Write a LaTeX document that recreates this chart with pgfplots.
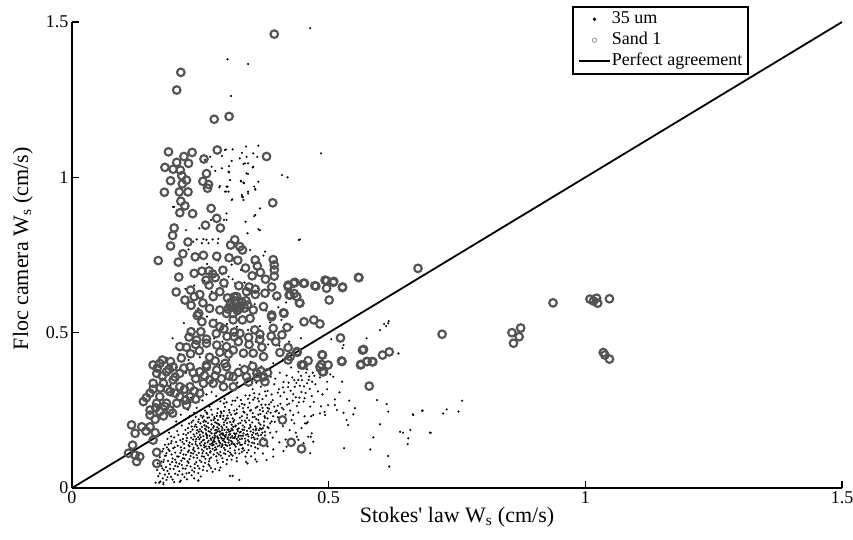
\documentclass[border=0pt]{standalone}
\usepackage{pgfplots}
\pgfplotsset{compat=1.18}
\usepackage{fontspec}
\setmainfont{Liberation Serif}

\begin{document}
\begin{tikzpicture}
\path[use as bounding box] (-72pt,-52pt) rectangle (781pt,488pt);
\begin{axis}[
    at={(0pt,0pt)}, anchor=south west,
    width=770pt, height=466pt, scale only axis,
    xmin=0, xmax=1.5, ymin=0, ymax=1.5,
    axis x line*=bottom, axis y line*=left,
    axis line style={line width=1.6pt, -},
    xtick={0,0.5,1,1.5}, ytick={0,0.5,1,1.5},
    tick align=inside, major tick length=7pt,
    tick style={line width=1.4pt, black},
    xticklabel style={font=\fontsize{18}{18}\selectfont},
    yticklabel style={font=\fontsize{18}{18}\selectfont},
    /pgf/number format/assume math mode=true,
    xlabel={Stokes\textquotesingle{} law W\textsubscript{s} (cm/s)},
    ylabel={Floc camera W\textsubscript{s} (cm/s)},
    xlabel style={font=\fontsize{22}{22}\selectfont, at={(axis description cs:0.5,-0.073)}, anchor=base},
    ylabel style={font=\fontsize{22}{22}\selectfont, at={(axis description cs:-0.057,0.513)}, anchor=base},
    legend style={at={(0.8792,1.0343)}, anchor=north east, draw=black,
        line width=1.5pt, font=\fontsize{18}{18}\selectfont,
        inner xsep=5pt, inner ysep=3pt, row sep=2pt, column sep=0pt,
        nodes={inner xsep=1pt, inner ysep=1pt, text height=13pt, text depth=4pt}},
    legend cell align=left,
    clip=false,
]
% 35 um
\addplot[only marks, mark=*, mark size=1pt, black, mark options={line width=0.1pt},
    legend image code/.code={\fill[black] (15.5pt,0pt) circle (0.9pt);}] coordinates {
(0.464,1.480) (0.303,1.380) (0.343,1.365) (0.310,1.262) (0.485,1.077)
(0.298,1.088) (0.313,1.090) (0.339,1.099) (0.363,1.102) (0.331,1.079) (0.353,1.077) (0.340,1.066) (0.292,1.069)
(0.361,1.066) (0.311,1.053) (0.327,1.061) (0.334,1.043) (0.343,1.045) (0.352,1.032) (0.272,1.034) (0.279,1.021)
(0.292,1.029) (0.306,1.016) (0.343,1.011) (0.409,1.007) (0.420,1.000) (0.308,0.991) (0.329,0.987) (0.335,0.981)
(0.363,0.986) (0.355,0.970) (0.357,0.962) (0.287,0.968) (0.301,0.970) (0.305,0.954) (0.298,0.954) (0.331,0.938)
(0.334,0.927) (0.343,0.954) (0.312,0.929) (0.366,0.900) (0.357,0.879) (0.301,0.884) (0.301,0.863) (0.338,0.857)
(0.363,0.833) (0.366,0.830) (0.342,0.820) (0.442,0.798) (0.444,0.800) (0.222,0.830) (0.248,0.836)
(0.243,0.800) (0.256,0.801) (0.262,0.799) (0.274,0.800) (0.285,0.802) (0.199,0.905)
(0.376,0.761) (0.296,0.863) (0.355,0.875) (0.253,0.788) (0.266,0.788) (0.284,0.788) (0.236,0.793) (0.227,0.768)
(0.295,0.691) (0.321,0.744) (0.305,0.680) (0.318,0.659) (0.301,0.648) (0.347,0.766) (0.300,1.090)
(0.337,1.045) (0.353,1.034) (0.305,1.018) (0.340,1.013) (0.329,0.989) (0.334,0.983) (0.288,0.972) (0.303,0.970)
(0.300,0.954) (0.357,0.961) (0.331,0.943) (0.333,0.936) (0.343,0.948) (0.311,0.927) (0.306,1.036) (0.259,1.056)
(0.269,1.066) (0.197,0.905) (0.271,0.863)
(0.246,0.741) (0.263,0.721) (0.285,0.732) (0.311,0.719) (0.329,0.702) (0.351,0.726) (0.373,0.748) (0.292,0.688)
(0.313,0.672) (0.336,0.661) (0.362,0.643) (0.384,0.628) (0.401,0.611) (0.258,0.667) (0.238,0.652) (0.221,0.641)
(0.272,0.632) (0.297,0.618) (0.331,0.608) (0.356,0.592) (0.378,0.571) (0.402,0.582) (0.417,0.597) (0.246,0.578)
(0.263,0.552) (0.281,0.541) (0.302,0.528) (0.321,0.519) (0.343,0.509) (0.366,0.521) (0.386,0.533) (0.408,0.541)
(0.429,0.519) (0.218,0.531) (0.236,0.512) (0.259,0.491) (0.277,0.482) (0.293,0.471) (0.318,0.463) (0.338,0.458)
(0.358,0.471) (0.382,0.462) (0.404,0.458) (0.423,0.471) (0.446,0.482) (0.196,0.482) (0.209,0.431) (0.227,0.412)
(0.249,0.421) (0.268,0.409) (0.287,0.396) (0.306,0.412) (0.327,0.396) (0.348,0.406) (0.369,0.391) (0.392,0.402)
(0.411,0.414) (0.185,0.418) (0.203,0.388) (0.222,0.371) (0.244,0.362) (0.264,0.352) (0.286,0.361) (0.305,0.348)
(0.322,0.339) (0.341,0.352) (0.176,0.352) (0.192,0.331) (0.214,0.311) (0.236,0.299) (0.254,0.318) (0.272,0.309)
(0.218,0.279) (0.199,0.268) (0.181,0.254) (0.232,0.291)
(0.262,0.301) (0.281,0.296) (0.305,0.304) (0.322,0.291) (0.338,0.298) (0.246,0.293) (0.355,0.305) (0.297,0.287)
(0.231,0.276) (0.254,0.282) (0.272,0.271) (0.289,0.279) (0.311,0.268) (0.329,0.283) (0.346,0.274) (0.364,0.279) (0.377,0.268)
(0.226,0.252) (0.243,0.258) (0.259,0.249) (0.268,0.262) (0.284,0.255) (0.298,0.261) (0.316,0.249) (0.333,0.257)
(0.349,0.251) (0.361,0.262) (0.372,0.247) (0.384,0.255)
(0.212,0.236) (0.229,0.231) (0.238,0.242) (0.251,0.233) (0.263,0.239) (0.277,0.228) (0.291,0.241) (0.303,0.233)
(0.318,0.238) (0.327,0.226) (0.341,0.236) (0.356,0.229) (0.367,0.238) (0.392,0.231)
(0.203,0.214) (0.219,0.219) (0.233,0.211) (0.247,0.221) (0.256,0.213) (0.271,0.218) (0.282,0.209) (0.294,0.222)
(0.308,0.212) (0.313,0.224) (0.324,0.207) (0.337,0.217) (0.351,0.211) (0.359,0.222) (0.374,0.214) (0.386,0.208) (0.241,0.204)
(0.198,0.196) (0.214,0.201) (0.226,0.193) (0.239,0.198) (0.249,0.189) (0.258,0.202) (0.266,0.194) (0.276,0.199)
(0.286,0.191) (0.296,0.203) (0.303,0.188) (0.314,0.197) (0.322,0.189) (0.333,0.201) (0.345,0.192) (0.357,0.198)
(0.369,0.189) (0.381,0.196) (0.228,0.207) (0.279,0.186)
(0.189,0.178) (0.205,0.183) (0.217,0.174) (0.231,0.181) (0.243,0.176) (0.252,0.183) (0.262,0.172) (0.269,0.181)
(0.278,0.175) (0.287,0.182) (0.294,0.171) (0.301,0.179) (0.309,0.184) (0.318,0.173) (0.327,0.179) (0.339,0.171)
(0.348,0.182) (0.361,0.176) (0.376,0.169) (0.256,0.167) (0.283,0.166)
(0.186,0.158) (0.199,0.163) (0.211,0.154) (0.224,0.161) (0.236,0.156) (0.246,0.164) (0.255,0.153) (0.263,0.161)
(0.271,0.155) (0.279,0.163) (0.286,0.152) (0.292,0.159) (0.299,0.164) (0.306,0.154) (0.314,0.161) (0.323,0.152)
(0.331,0.159) (0.343,0.154) (0.354,0.163) (0.366,0.151) (0.274,0.147) (0.289,0.144) (0.297,0.149)
(0.181,0.139) (0.193,0.144) (0.206,0.136) (0.218,0.142) (0.229,0.134) (0.241,0.141) (0.251,0.137) (0.259,0.144)
(0.267,0.133) (0.276,0.139) (0.284,0.134) (0.293,0.141) (0.302,0.136) (0.311,0.142) (0.319,0.133) (0.328,0.139)
(0.337,0.144) (0.349,0.135) (0.362,0.141) (0.263,0.126) (0.281,0.124)
(0.176,0.118) (0.188,0.124) (0.201,0.114) (0.213,0.121) (0.226,0.116) (0.236,0.123) (0.247,0.113) (0.256,0.119)
(0.269,0.114) (0.278,0.121) (0.289,0.116) (0.298,0.123) (0.308,0.114) (0.317,0.121) (0.331,0.116) (0.344,0.122) (0.356,0.113)
(0.171,0.099) (0.183,0.104) (0.196,0.095) (0.208,0.101) (0.219,0.094) (0.231,0.103) (0.244,0.097) (0.257,0.101)
(0.268,0.094) (0.281,0.102) (0.293,0.096) (0.306,0.103) (0.321,0.097) (0.338,0.101)
(0.167,0.079) (0.178,0.084) (0.191,0.076) (0.203,0.082) (0.214,0.074) (0.227,0.081) (0.239,0.077) (0.252,0.084)
(0.266,0.076) (0.284,0.081) (0.301,0.077)
(0.166,0.058) (0.176,0.063) (0.186,0.055) (0.198,0.061) (0.209,0.054) (0.221,0.062) (0.234,0.057) (0.248,0.063)
(0.263,0.055) (0.279,0.061)
(0.168,0.038) (0.181,0.043) (0.193,0.036) (0.206,0.042) (0.219,0.035) (0.233,0.041) (0.251,0.037)
(0.163,0.017) (0.172,0.021) (0.184,0.026) (0.199,0.019) (0.212,0.024) (0.246,0.024) (0.210,0.020) (0.178,0.012)
(0.252,0.148) (0.261,0.187) (0.272,0.205) (0.283,0.196) (0.291,0.175) (0.268,0.168) (0.277,0.158) (0.287,0.137)
(0.296,0.129) (0.258,0.131) (0.249,0.171) (0.306,0.171) (0.311,0.204) (0.299,0.218) (0.264,0.226) (0.273,0.143)
(0.284,0.182) (0.293,0.193) (0.305,0.146) (0.318,0.166) (0.241,0.149) (0.235,0.188) (0.246,0.213) (0.325,0.169)
(0.332,0.188) (0.266,0.152) (0.279,0.211) (0.289,0.229) (0.254,0.226) (0.262,0.198)
(0.222,0.171) (0.229,0.146) (0.237,0.129) (0.244,0.186) (0.248,0.157) (0.253,0.196) (0.257,0.138) (0.261,0.176)
(0.265,0.209) (0.269,0.141) (0.271,0.188) (0.274,0.163) (0.276,0.219) (0.278,0.149) (0.281,0.178) (0.282,0.232)
(0.285,0.159) (0.287,0.203) (0.288,0.171) (0.291,0.132) (0.292,0.186) (0.294,0.153) (0.296,0.211) (0.297,0.168)
(0.299,0.139) (0.301,0.196) (0.303,0.158) (0.304,0.224) (0.306,0.181) (0.308,0.128) (0.309,0.162) (0.311,0.191)
(0.312,0.148) (0.314,0.213) (0.316,0.176) (0.317,0.139) (0.319,0.201) (0.321,0.158) (0.323,0.183) (0.326,0.146)
(0.328,0.209) (0.329,0.168) (0.332,0.127) (0.334,0.176) (0.336,0.196) (0.338,0.151) (0.341,0.184) (0.344,0.166)
(0.347,0.203) (0.351,0.146) (0.353,0.178) (0.356,0.157) (0.359,0.191) (0.363,0.169) (0.367,0.204) (0.371,0.161)
(0.239,0.166) (0.233,0.198) (0.227,0.138) (0.221,0.187) (0.216,0.158) (0.212,0.131) (0.207,0.171) (0.203,0.148)
(0.197,0.128) (0.193,0.166) (0.188,0.141) (0.184,0.112) (0.179,0.091) (0.174,0.071) (0.187,0.087) (0.194,0.108)
(0.201,0.091) (0.206,0.069) (0.213,0.088) (0.217,0.108) (0.224,0.072) (0.229,0.093) (0.236,0.111) (0.242,0.083)
(0.246,0.128) (0.253,0.102) (0.259,0.081) (0.262,0.112) (0.271,0.098) (0.274,0.126) (0.286,0.108) (0.294,0.084)
(0.299,0.109) (0.313,0.104) (0.326,0.111) (0.246,0.048) (0.228,0.049) (0.189,0.046) (0.177,0.031) (0.196,0.027)
(0.224,0.028) (0.239,0.064) (0.256,0.069) (0.271,0.064) (0.289,0.066) (0.262,0.243) (0.271,0.252) (0.283,0.241)
(0.296,0.248) (0.307,0.243) (0.321,0.253) (0.334,0.246) (0.343,0.259) (0.352,0.241) (0.366,0.251) (0.379,0.241)
(0.296,0.272) (0.318,0.281) (0.336,0.268) (0.353,0.284) (0.371,0.286) (0.388,0.276) (0.401,0.265) (0.289,0.233)
(0.258,0.218) (0.241,0.229) (0.331,0.231) (0.345,0.218) (0.363,0.236) (0.381,0.224) (0.395,0.213) (0.403,0.241)
(0.382,0.247) (0.366,0.192) (0.374,0.201) (0.386,0.178) (0.351,0.171) (0.343,0.139) (0.357,0.131) (0.333,0.128)
(0.341,0.114) (0.321,0.086) (0.311,0.091) (0.302,0.091) (0.282,0.089) (0.267,0.086) (0.368,0.139)
(0.215,0.148) (0.219,0.128) (0.223,0.152) (0.226,0.177) (0.228,0.121) (0.232,0.162) (0.234,0.141) (0.237,0.173)
(0.239,0.118) (0.242,0.157) (0.244,0.136) (0.247,0.181) (0.249,0.143) (0.251,0.163) (0.253,0.124) (0.255,0.178)
(0.257,0.155) (0.259,0.191) (0.261,0.134) (0.263,0.168) (0.264,0.147) (0.266,0.183) (0.268,0.128) (0.270,0.159)
(0.272,0.176) (0.273,0.137) (0.275,0.194) (0.276,0.152) (0.278,0.169) (0.279,0.131) (0.281,0.143) (0.282,0.187)
(0.284,0.161) (0.285,0.206) (0.287,0.148) (0.288,0.181) (0.290,0.163) (0.291,0.198) (0.293,0.137) (0.294,0.176)
(0.296,0.158) (0.297,0.187) (0.299,0.146) (0.300,0.171) (0.302,0.209) (0.304,0.163) (0.305,0.188) (0.307,0.138)
(0.308,0.174) (0.310,0.151) (0.312,0.167) (0.313,0.186) (0.315,0.142) (0.317,0.161) (0.318,0.198) (0.320,0.176)
(0.322,0.143) (0.324,0.164) (0.325,0.192) (0.327,0.157) (0.329,0.181) (0.331,0.139) (0.333,0.168) (0.335,0.187)
(0.337,0.159) (0.339,0.211) (0.342,0.173) (0.345,0.149) (0.348,0.196) (0.350,0.162) (0.353,0.188) (0.355,0.144)
(0.358,0.174) (0.361,0.158) (0.364,0.186) (0.368,0.171) (0.372,0.193) (0.376,0.181)
(0.236,0.217) (0.243,0.196) (0.250,0.208) (0.256,0.231) (0.261,0.214) (0.267,0.227) (0.273,0.236) (0.278,0.224)
(0.284,0.219) (0.290,0.246) (0.295,0.232) (0.301,0.224) (0.306,0.251) (0.310,0.236) (0.316,0.218) (0.321,0.241)
(0.326,0.263) (0.331,0.217) (0.336,0.243) (0.341,0.226) (0.347,0.249) (0.352,0.228) (0.358,0.258) (0.363,0.219)
(0.369,0.268) (0.375,0.231) (0.381,0.258) (0.387,0.242) (0.394,0.262) (0.399,0.249) (0.406,0.271) (0.412,0.253)
(0.419,0.268) (0.425,0.249) (0.430,0.281) (0.436,0.292) (0.442,0.276) (0.447,0.309) (0.453,0.289) (0.458,0.337)
(0.462,0.359) (0.468,0.342) (0.472,0.361) (0.478,0.378) (0.456,0.371) (0.444,0.329) (0.433,0.347) (0.422,0.339)
(0.411,0.324) (0.401,0.307) (0.389,0.301) (0.376,0.311) (0.365,0.302) (0.356,0.291) (0.343,0.287) (0.331,0.271)
(0.313,0.281) (0.301,0.276)
(0.200,0.131) (0.194,0.151) (0.190,0.119) (0.185,0.131) (0.181,0.104) (0.178,0.126) (0.205,0.102) (0.211,0.113)
(0.216,0.096) (0.222,0.107) (0.225,0.086) (0.232,0.113) (0.237,0.098) (0.243,0.106) (0.249,0.089) (0.254,0.112)
(0.260,0.094) (0.265,0.106) (0.270,0.118) (0.276,0.108) (0.283,0.113) (0.290,0.104) (0.296,0.112) (0.304,0.118)
(0.310,0.108) (0.318,0.112) (0.325,0.124) (0.335,0.121) (0.183,0.067) (0.191,0.062) (0.195,0.084) (0.201,0.071)
(0.209,0.078) (0.216,0.063) (0.223,0.047) (0.231,0.069) (0.238,0.052) (0.245,0.071) (0.255,0.058) (0.268,0.071)
(0.274,0.052) (0.287,0.057) (0.171,0.047) (0.174,0.085) (0.179,0.058) (0.186,0.035) (0.201,0.046) (0.215,0.044)
(0.238,0.031)
(0.352,0.318) (0.368,0.326) (0.381,0.312) (0.394,0.334) (0.403,0.318) (0.412,0.341) (0.421,0.325) (0.429,0.356)
(0.437,0.338) (0.446,0.361) (0.452,0.327) (0.461,0.348) (0.469,0.371) (0.474,0.334) (0.483,0.356) (0.491,0.382)
(0.476,0.391) (0.458,0.382) (0.441,0.374) (0.427,0.388) (0.418,0.362) (0.405,0.371) (0.396,0.352) (0.387,0.358)
(0.372,0.346) (0.359,0.339) (0.346,0.298) (0.362,0.288) (0.378,0.297) (0.391,0.283) (0.406,0.296) (0.419,0.286)
(0.431,0.302) (0.443,0.291) (0.455,0.306) (0.467,0.296) (0.479,0.311) (0.488,0.301) (0.423,0.271) (0.438,0.264)
(0.451,0.278) (0.464,0.262) (0.471,0.277) (0.409,0.258) (0.396,0.246) (0.384,0.269) (0.371,0.258) (0.401,0.228)
(0.416,0.236) (0.428,0.219) (0.441,0.243) (0.453,0.231) (0.389,0.214) (0.376,0.226) (0.364,0.209) (0.411,0.199)
(0.424,0.186) (0.398,0.181) (0.383,0.193) (0.371,0.178) (0.358,0.186) (0.391,0.162) (0.376,0.154) (0.404,0.147)
(0.381,0.134) (0.362,0.127) (0.349,0.102) (0.372,0.111) (0.339,0.084) (0.357,0.092) (0.392,0.124) (0.416,0.156)
(0.436,0.178) (0.447,0.193) (0.459,0.212) (0.466,0.231) (0.497,0.342) (0.503,0.366) (0.497,0.318) (0.485,0.263)
(0.492,0.245) (0.512,0.285) (0.521,0.308) (0.516,0.251) (0.426,0.313) (0.434,0.326) (0.448,0.347) (0.463,0.319)
(0.413,0.308) (0.441,0.348)
(0.499,0.267) (0.512,0.267) (0.529,0.242) (0.535,0.219) (0.538,0.203) (0.551,0.257) (0.594,0.283) (0.613,0.270)
(0.616,0.246) (0.600,0.205) (0.587,0.163) (0.581,0.124) (0.530,0.128) (0.616,0.103) (0.618,0.069) (0.639,0.181)
(0.645,0.178) (0.659,0.187) (0.655,0.160) (0.654,0.141) (0.665,0.235) (0.683,0.249) (0.699,0.178) (0.483,0.240)
(0.493,0.235) (0.470,0.235) (0.457,0.208) (0.454,0.208) (0.467,0.176) (0.465,0.165) (0.470,0.149) (0.460,0.165)
(0.451,0.144) (0.464,0.112) (0.431,0.235) (0.433,0.208) (0.438,0.165) (0.441,0.155) (0.412,0.119) (0.418,0.133)
(0.392,0.101) (0.379,0.090) (0.360,0.085) (0.342,0.079) (0.326,0.026) (0.308,0.039) (0.313,0.039) (0.246,0.024)
(0.210,0.020) (0.178,0.017) (0.170,0.017)
(0.760,0.281) (0.753,0.246) (0.723,0.240) (0.730,0.253) (0.697,0.178) (0.682,0.249) (0.664,0.237) (0.526,0.342)
(0.509,0.358) (0.600,0.508) (0.616,0.530) (0.612,0.521) (0.574,0.482) (0.636,0.433) (0.527,0.450) (0.529,0.460)
(0.617,0.537) (0.608,0.528) (0.505,0.479) (0.540,0.281) (0.548,0.237)
};
\addlegendentry{35 um}
% Sand 1
\addplot[only marks, mark=o, mark size=3.8pt, mark options={line width=2.1pt, draw=black!68},
    legend image code/.code={\draw[black!40, line width=0.8pt] (15.5pt,0pt) circle (2.3pt);}] coordinates {
(0.394,1.461) (0.212,1.338) (0.204,1.281) (0.277,1.187) (0.306,1.196)
(0.188,1.082) (0.234,1.080) (0.283,1.088) (0.379,1.067) (0.218,1.067) (0.204,1.048) (0.227,1.045) (0.181,1.032)
(0.197,1.026) (0.211,1.023) (0.257,1.059) (0.262,1.012) (0.214,1.005) (0.192,0.989) (0.223,0.991) (0.255,0.987)
(0.266,0.977) (0.215,0.979) (0.180,0.952) (0.209,0.953) (0.226,0.953) (0.264,0.965) (0.212,0.923) (0.391,0.918)
(0.220,0.908) (0.210,0.886) (0.235,0.883) (0.271,0.900) (0.282,0.868) (0.260,0.846) (0.289,0.837) (0.199,0.837)
(0.196,0.813) (0.226,0.792) (0.192,0.779) (0.317,0.799) (0.309,0.782) (0.327,0.777)
(0.332,0.766) (0.216,0.754) (0.240,0.744) (0.256,0.749) (0.282,0.746) (0.306,0.741) (0.168,0.732) (0.207,0.727)
(0.323,0.733) (0.357,0.734) (0.392,0.735) (0.394,0.718) (0.394,0.702) (0.394,0.682) (0.361,0.715) (0.338,0.708)
(0.367,0.694) (0.351,0.683) (0.377,0.672) (0.208,0.679) (0.238,0.691) (0.253,0.698) (0.267,0.699) (0.274,0.689)
(0.294,0.701) (0.261,0.669) (0.279,0.677) (0.296,0.660) (0.267,0.653) (0.325,0.651) (0.345,0.647) (0.357,0.640)
(0.389,0.647) (0.421,0.653) (0.432,0.659) (0.451,0.659) (0.473,0.651) (0.493,0.669) (0.510,0.665) (0.496,0.643)
(0.527,0.647) (0.558,0.678) (0.501,0.605)
(0.203,0.631) (0.231,0.637) (0.249,0.623) (0.220,0.605) (0.238,0.616) (0.255,0.596) (0.275,0.616) (0.288,0.632)
(0.303,0.612) (0.321,0.616) (0.340,0.632) (0.357,0.623) (0.376,0.627) (0.399,0.618) (0.423,0.621) (0.438,0.616)
(0.444,0.595) (0.412,0.564) (0.232,0.588) (0.247,0.562) (0.268,0.578) (0.288,0.573) (0.308,0.589) (0.321,0.594)
(0.327,0.578) (0.342,0.589) (0.353,0.573) (0.373,0.584) (0.389,0.557) (0.301,0.562) (0.314,0.562)
(0.318,0.602) (0.326,0.586) (0.331,0.598) (0.312,0.583) (0.336,0.579) (0.322,0.571) (0.309,0.597) (0.339,0.603)
(0.316,0.615) (0.304,0.576)
(0.244,0.555) (0.253,0.535) (0.232,0.503) (0.251,0.503) (0.275,0.530) (0.288,0.519) (0.314,0.541) (0.332,0.541)
(0.347,0.546) (0.366,0.495) (0.392,0.514) (0.413,0.562) (0.419,0.517) (0.452,0.535) (0.471,0.541) (0.483,0.528)
(0.389,0.551) (0.327,0.498) (0.316,0.487) (0.344,0.485)
(0.262,0.479) (0.281,0.497) (0.302,0.488) (0.324,0.471) (0.345,0.462) (0.366,0.478) (0.388,0.489) (0.241,0.462)
(0.228,0.486) (0.296,0.512) (0.316,0.502) (0.356,0.509) (0.409,0.493) (0.397,0.471) (0.421,0.452)
(0.210,0.455) (0.223,0.453) (0.243,0.476) (0.262,0.466) (0.282,0.460) (0.301,0.455) (0.314,0.444) (0.334,0.434)
(0.353,0.434) (0.370,0.453) (0.373,0.423) (0.405,0.436) (0.425,0.423) (0.439,0.437) (0.460,0.410) (0.488,0.428)
(0.523,0.483) (0.526,0.407) (0.499,0.396) (0.483,0.390) (0.490,0.374) (0.451,0.396) (0.566,0.444) (0.563,0.398)
(0.574,0.407) (0.585,0.407) (0.605,0.428) (0.618,0.438) (0.579,0.328) (0.721,0.495) (0.674,0.707) (0.559,0.677)
(0.527,0.645) (0.496,0.667) (0.509,0.662) (0.475,0.650) (0.453,0.659) (0.434,0.662) (0.421,0.648) (0.433,0.626)
(0.443,0.596) (0.425,0.621)
(0.158,0.396) (0.171,0.401) (0.165,0.369) (0.184,0.374) (0.197,0.390) (0.210,0.369) (0.230,0.390) (0.249,0.374)
(0.262,0.390) (0.282,0.380) (0.301,0.390) (0.314,0.358) (0.340,0.358) (0.360,0.369) (0.373,0.358) (0.158,0.337)
(0.178,0.337) (0.197,0.348) (0.210,0.326) (0.230,0.326) (0.256,0.337) (0.275,0.337) (0.295,0.326) (0.314,0.326)
(0.152,0.305) (0.171,0.294) (0.191,0.310) (0.210,0.294) (0.230,0.294) (0.249,0.305) (0.165,0.273) (0.184,0.273)
(0.204,0.273) (0.223,0.267) (0.139,0.278) (0.152,0.251) (0.171,0.246) (0.191,0.251) (0.152,0.235) (0.116,0.203)
(0.136,0.197) (0.152,0.197) (0.123,0.176) (0.144,0.183) (0.162,0.178) (0.118,0.138) (0.110,0.112) (0.123,0.106)
(0.132,0.101) (0.126,0.085) (0.165,0.115) (0.165,0.079) (0.158,0.154) (0.373,0.147) (0.410,0.219) (0.427,0.147)
(0.447,0.126)
(0.166,0.386) (0.176,0.361) (0.189,0.382) (0.201,0.357) (0.218,0.386) (0.236,0.371) (0.241,0.352) (0.258,0.362)
(0.268,0.348) (0.279,0.361) (0.291,0.352) (0.306,0.361) (0.186,0.318) (0.201,0.305) (0.219,0.318) (0.238,0.312)
(0.221,0.283) (0.241,0.286) (0.172,0.322) (0.158,0.318) (0.145,0.291) (0.163,0.258) (0.181,0.262) (0.196,0.241)
(0.178,0.232) (0.162,0.221) (0.268,0.421) (0.288,0.437) (0.305,0.431) (0.248,0.442) (0.231,0.432) (0.213,0.418)
(0.192,0.407) (0.176,0.412) (0.262,0.396) (0.279,0.409) (0.298,0.401) (0.324,0.372) (0.336,0.381) (0.352,0.392)
(0.368,0.376) (0.381,0.371) (0.344,0.341) (0.361,0.356) (0.376,0.342)
(0.937,0.596) (0.857,0.500) (0.874,0.515) (0.871,0.487) (0.860,0.466) (0.568,0.446) (0.525,0.409) (0.562,0.396)
(0.575,0.407) (0.586,0.406) (0.487,0.429) (0.486,0.398) (0.488,0.374) (0.447,0.396) (0.438,0.439) (0.421,0.412)
(1.009,0.608) (1.016,0.602) (1.022,0.611) (1.024,0.595) (1.047,0.609) (1.035,0.436) (1.038,0.428) (1.047,0.415)
};
\addlegendentry{Sand 1}
\addplot[black, line width=1.8pt,
    legend image code/.code={\draw[black, line width=1.6pt] (0pt,0pt) -- (31pt,0pt);}]
    coordinates {(0,0) (1.5,1.5)};
\addlegendentry{Perfect agreement}
\end{axis}
\end{tikzpicture}
\end{document}
